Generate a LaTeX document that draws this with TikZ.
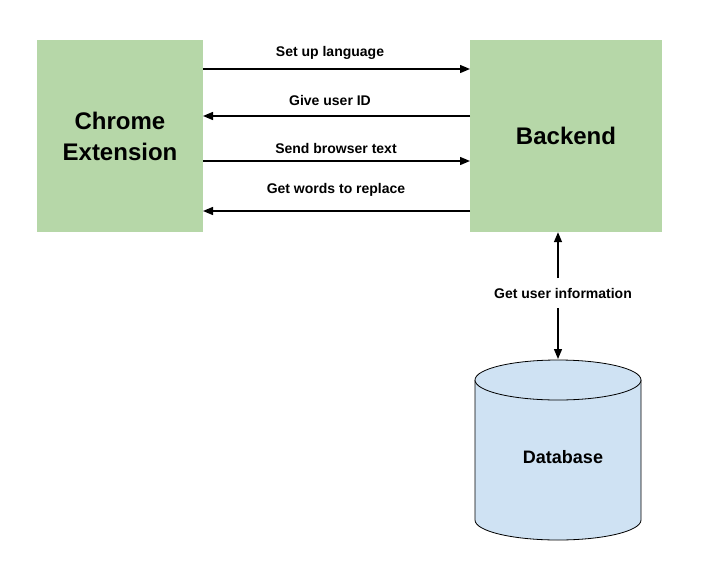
\documentclass[tikz,border=0pt]{standalone}
\usepackage{fontspec}
\setmainfont{Liberation Sans}
\usetikzlibrary{arrows.meta}
\definecolor{boxg}{HTML}{B6D7A8}
\definecolor{dbb}{HTML}{CFE2F3}
\begin{document}
\begin{tikzpicture}[x=1pt,y=-1pt,
 box/.style={fill=boxg,draw=none,inner sep=0pt,align=center,font=\fontsize{24}{31}\selectfont\bfseries},
 lbl/.style={font=\fontsize{14}{16}\selectfont\bfseries,inner sep=1pt},
 arr/.style={line width=1.4pt,-{Triangle[length=10pt,width=8pt]}}]
\useasboundingbox (0,0) rectangle (701,573);
\node[box,minimum width=166,minimum height=192] (ce) at (120,136) {Chrome\\Extension};
\node[box,minimum width=192,minimum height=192] (be) at (566,136) {Backend};
\coordinate (l1) at (203,69); \coordinate (r1) at (470,69);
\coordinate (l2) at (203,116); \coordinate (r2) at (470,116);
\coordinate (l3) at (203,161); \coordinate (r3) at (470,161);
\coordinate (l4) at (203,211); \coordinate (r4) at (470,211);
\draw[arr] (l1) -- (r1); \draw[arr] (r2) -- (l2);
\draw[arr] (l3) -- (r3); \draw[arr] (r4) -- (l4);
\node[lbl] (t1) at (330,53) {Set up language};
\node[lbl] (t2) at (330,100) {Give user ID};
\node[lbl] (t3) at (336,148) {Send browser text};
\node[lbl] (t4) at (336,190) {Get words to replace};
% cylinder
\fill[dbb] (475,380) -- (475,520) arc[start angle=180,end angle=0,x radius=83,y radius=20] -- (641,380) -- cycle;
\draw[line width=0.8pt] (475,380) -- (475,520) arc[start angle=180,end angle=0,x radius=83,y radius=20] -- (641,380);
\draw[fill=dbb,line width=0.8pt] (558,380) ellipse[x radius=83,y radius=20];
\node[font=\fontsize{18}{21}\selectfont\bfseries] (db) at (563,457) {Database};
\coordinate (dbtop) at (558,359);
\coordinate (gut) at (558,278);
\coordinate (gub) at (558,308);
\node[lbl] (gu) at (563,293) {Get user information};
\draw[arr] (gut) -- (be.south -| dbtop);
\draw[arr] (gub) -- (dbtop);
\end{tikzpicture}
\end{document}
